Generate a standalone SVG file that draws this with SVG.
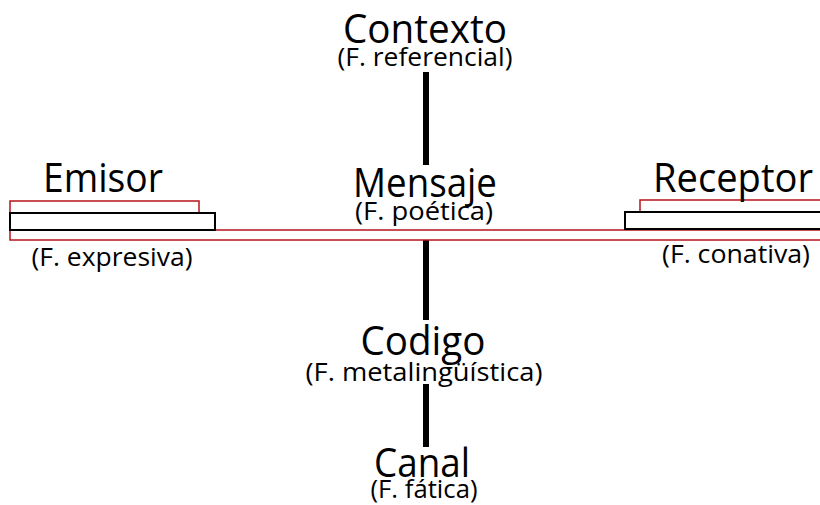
<svg xmlns="http://www.w3.org/2000/svg" width="820" height="505" viewBox="0 0 820 505">
<style>
.t{font-family:"Open Sans","Liberation Sans",sans-serif;font-size:41px;fill:#000;text-anchor:middle}
.s{font-family:"Open Sans","Liberation Sans",sans-serif;font-size:26px;fill:#000;text-anchor:middle}
.r{fill:#fff;stroke:#b8141c;stroke-width:1.5}
.b{fill:#fff;stroke:#000;stroke-width:2}
</style>
<rect width="820" height="505" fill="#fff"/>
<g id="connectors" stroke="#000" stroke-width="6">
<line x1="426" y1="72" x2="426" y2="165"/>
<line x1="426" y1="240" x2="426" y2="320"/>
<line x1="426" y1="384" x2="426" y2="447"/>
</g>
<g id="canal-linea">
<rect class="r" x="10" y="230" width="830" height="10"/>
</g>
<g id="emisor">
<rect class="r" x="10" y="201" width="189" height="14"/>
<rect class="b" x="10" y="213" width="205" height="17"/>
<text class="t" x="103" y="192" textLength="120" lengthAdjust="spacingAndGlyphs">Emisor</text>
<text class="s" x="112" y="266" textLength="161" lengthAdjust="spacingAndGlyphs">(F. expresiva)</text>
</g>
<g id="receptor">
<rect class="r" x="640" y="200" width="200" height="14"/>
<rect class="b" x="625" y="212" width="215" height="17"/>
<text class="t" x="733" y="192" textLength="160" lengthAdjust="spacingAndGlyphs">Receptor</text>
<text class="s" x="736" y="263" textLength="148" lengthAdjust="spacingAndGlyphs">(F. conativa)</text>
</g>
<g id="contexto">
<text class="t" x="425" y="43" textLength="164" lengthAdjust="spacingAndGlyphs">Contexto</text>
<text class="s" x="425" y="66" textLength="175" lengthAdjust="spacingAndGlyphs">(F. referencial)</text>
</g>
<g id="mensaje">
<text class="t" x="425" y="197" textLength="144" lengthAdjust="spacingAndGlyphs">Mensaje</text>
<text class="s" x="424" y="220" textLength="138" lengthAdjust="spacingAndGlyphs">(F. poética)</text>
</g>
<g id="codigo">
<text class="t" x="423" y="355" textLength="125" lengthAdjust="spacingAndGlyphs">Codigo</text>
<text class="s" x="424" y="381" textLength="237" lengthAdjust="spacingAndGlyphs">(F. metalingüística)</text>
</g>
<g id="canal">
<text class="t" x="422" y="477" textLength="96" lengthAdjust="spacingAndGlyphs">Canal</text>
<text class="s" x="424" y="498" textLength="107" lengthAdjust="spacingAndGlyphs">(F. fática)</text>
</g>
</svg>
